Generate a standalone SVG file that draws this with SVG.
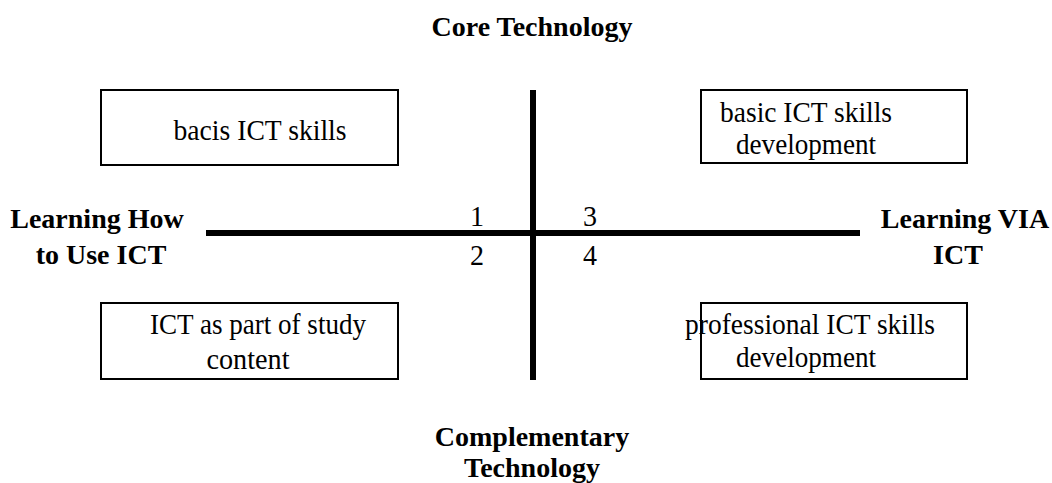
<svg xmlns="http://www.w3.org/2000/svg" width="1052" height="483" viewBox="0 0 1052 483">
<style>
.box{fill:#fff;stroke:#000;stroke-width:2}
.t{font-family:'Liberation Serif','Times New Roman',Times,serif;font-size:30px;fill:#000;text-anchor:middle}
.b{font-family:'Liberation Serif','Times New Roman',Times,serif;font-size:28px;font-weight:bold;fill:#000;text-anchor:middle}
.ax{stroke:#000;stroke-width:6;fill:none}
</style>
<rect width="1052" height="483" fill="#fff"/>
<g id="connectors">
<line class="ax" x1="533" y1="90" x2="533" y2="380"/>
<line class="ax" x1="206" y1="233" x2="860" y2="233"/>
</g>
<g id="title-top"><text class="b" x="532" y="36">Core Technology</text></g>
<g id="title-bottom">
<text class="b" x="532" y="446">Complementary</text>
<text class="b" x="532" y="477">Technology</text>
</g>
<g id="title-left">
<text class="b" x="97" y="228">Learning How</text>
<text class="b" x="101" y="264">to Use ICT</text>
</g>
<g id="title-right">
<text class="b" x="965" y="228">Learning VIA</text>
<text class="b" x="958" y="264">ICT</text>
</g>
<g id="quadrant-numbers">
<text class="t" x="477" y="226" textLength="14" lengthAdjust="spacingAndGlyphs">1</text>
<text class="t" x="590" y="226" textLength="14" lengthAdjust="spacingAndGlyphs">3</text>
<text class="t" x="477" y="265" textLength="14" lengthAdjust="spacingAndGlyphs">2</text>
<text class="t" x="590" y="265" textLength="14" lengthAdjust="spacingAndGlyphs">4</text>
</g>
<g id="node-1">
<rect class="box" x="101" y="90" width="297" height="75"/>
<text class="t" x="260" y="140" textLength="173" lengthAdjust="spacingAndGlyphs">bacis ICT skills</text>
</g>
<g id="node-2">
<rect class="box" x="701" y="90" width="266" height="73"/>
<text class="t" x="806" y="122" textLength="172" lengthAdjust="spacingAndGlyphs">basic ICT skills</text>
<text class="t" x="806" y="154" textLength="140" lengthAdjust="spacingAndGlyphs">development</text>
</g>
<g id="node-3">
<rect class="box" x="101" y="303" width="297" height="76"/>
<text class="t" x="258" y="334" textLength="216" lengthAdjust="spacingAndGlyphs">ICT as part of study</text>
<text class="t" x="248" y="369" textLength="83" lengthAdjust="spacingAndGlyphs">content</text>
</g>
<g id="node-4">
<rect class="box" x="701" y="303" width="266" height="76"/>
<text class="t" x="810" y="334" textLength="250" lengthAdjust="spacingAndGlyphs">professional ICT skills</text>
<text class="t" x="806" y="367" textLength="140" lengthAdjust="spacingAndGlyphs">development</text>
</g>
</svg>
